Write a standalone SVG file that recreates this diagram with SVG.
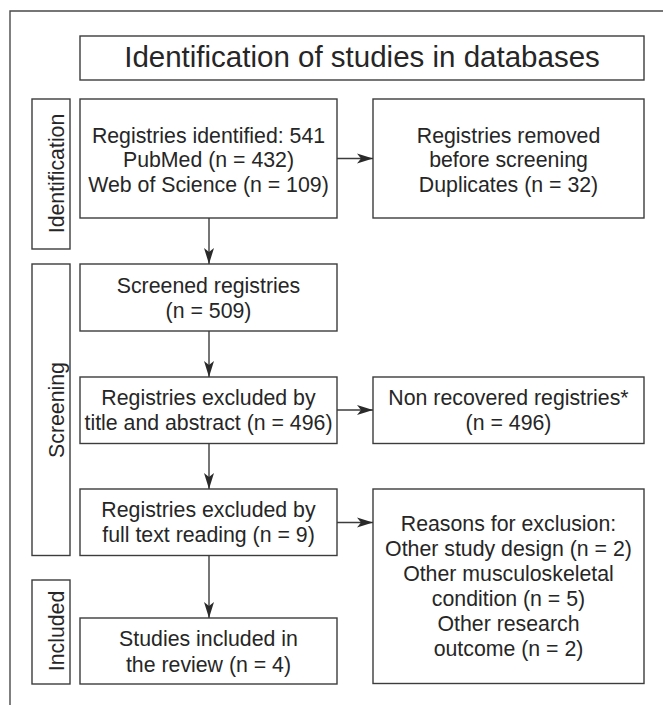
<svg xmlns="http://www.w3.org/2000/svg" width="663" height="705" viewBox="0 0 663 705">
  <style>
    .box { fill: #ffffff; stroke: #3c3c3c; stroke-width: 1.4; }
    .frame { fill: none; stroke: #4a4a4a; stroke-width: 1.4; }
    .conn { fill: none; stroke: #3c3c3c; stroke-width: 1.4; }
    text { font-family: "Liberation Sans", Arial, Helvetica, sans-serif; fill: #262626; text-anchor: middle; }
    .t { font-size: 21.3px; }
    .title { font-size: 29.5px; }
    .side { font-size: 21.3px; }
  </style>
  <defs>
    <marker id="arrow" markerUnits="userSpaceOnUse" markerWidth="17" markerHeight="11" refX="16" refY="5.5" orient="auto">
      <path d="M0,0.5 L16,5.5 L0,10.5 L4,5.5 Z" fill="#2a2a2a"/>
    </marker>
  </defs>
  <rect x="0" y="0" width="663" height="705" fill="#ffffff"/>
  <path class="frame" d="M10,705 V11 H663"/>

  <g id="title">
    <rect class="box" x="80" y="36" width="564" height="44"/>
    <text class="title" x="362" y="67">Identification of studies in databases</text>
  </g>

  <g id="phase-identification">
    <rect class="box" x="32" y="99" width="38" height="150"/>
    <text class="side" transform="translate(64,173.5) rotate(-90)">Identification</text>
  </g>
  <g id="phase-screening">
    <rect class="box" x="32" y="264" width="38" height="291.5"/>
    <text class="side" transform="translate(64,410) rotate(-90)">Screening</text>
  </g>
  <g id="phase-included">
    <rect class="box" x="32" y="580" width="38" height="104"/>
    <text class="side" transform="translate(64,631) rotate(-90)">Included</text>
  </g>

  <g id="identified">
    <rect class="box" x="80" y="99" width="257" height="119"/>
    <text class="t" x="208.5" y="142.5">Registries identified: 541</text>
    <text class="t" x="208.5" y="167">PubMed (n = 432)</text>
    <text class="t" x="208.5" y="191.5">Web of Science (n = 109)</text>
  </g>
  <g id="removed">
    <rect class="box" x="373" y="99" width="271" height="119"/>
    <text class="t" x="508.5" y="142.5">Registries removed</text>
    <text class="t" x="508.5" y="167">before screening</text>
    <text class="t" x="508.5" y="191.5">Duplicates (n = 32)</text>
  </g>
  <g id="screened">
    <rect class="box" x="80" y="264" width="257" height="67"/>
    <text class="t" x="208.5" y="292.7">Screened registries</text>
    <text class="t" x="208.5" y="317.7">(n = 509)</text>
  </g>
  <g id="excluded-title">
    <rect class="box" x="80" y="377" width="257" height="66.5"/>
    <text class="t" x="208.5" y="405">Registries excluded by</text>
    <text class="t" x="208.5" y="430">title and abstract (n = 496)</text>
  </g>
  <g id="non-recovered">
    <rect class="box" x="373" y="377" width="271" height="66.5"/>
    <text class="t" x="508.5" y="405">Non recovered registries*</text>
    <text class="t" x="508.5" y="430">(n = 496)</text>
  </g>
  <g id="excluded-fulltext">
    <rect class="box" x="80" y="489" width="257" height="66.5"/>
    <text class="t" x="208.5" y="517.3">Registries excluded by</text>
    <text class="t" x="208.5" y="542.3">full text reading (n = 9)</text>
  </g>
  <g id="reasons">
    <rect class="box" x="373" y="489" width="271" height="194.5"/>
    <text class="t" x="508.5" y="531.2">Reasons for exclusion:</text>
    <text class="t" x="508.5" y="556.2">Other study design (n = 2)</text>
    <text class="t" x="508.5" y="581.2">Other musculoskeletal</text>
    <text class="t" x="508.5" y="606.2">condition (n = 5)</text>
    <text class="t" x="508.5" y="631.2">Other research</text>
    <text class="t" x="508.5" y="656.2">outcome (n = 2)</text>
  </g>
  <g id="included">
    <rect class="box" x="80" y="618" width="257" height="66"/>
    <text class="t" x="208.5" y="646.3">Studies included in</text>
    <text class="t" x="208.5" y="671.5">the review (n = 4)</text>
  </g>

  <g id="connectors">
    <line class="conn" x1="209" y1="218" x2="209" y2="264" marker-end="url(#arrow)"/>
    <line class="conn" x1="209" y1="331" x2="209" y2="377" marker-end="url(#arrow)"/>
    <line class="conn" x1="209" y1="443.5" x2="209" y2="489" marker-end="url(#arrow)"/>
    <line class="conn" x1="209" y1="555.5" x2="209" y2="618" marker-end="url(#arrow)"/>
    <line class="conn" x1="337" y1="158.5" x2="373" y2="158.5" marker-end="url(#arrow)"/>
    <line class="conn" x1="337" y1="410" x2="373" y2="410" marker-end="url(#arrow)"/>
    <line class="conn" x1="337" y1="522.5" x2="373" y2="522.5" marker-end="url(#arrow)"/>
  </g>
</svg>
